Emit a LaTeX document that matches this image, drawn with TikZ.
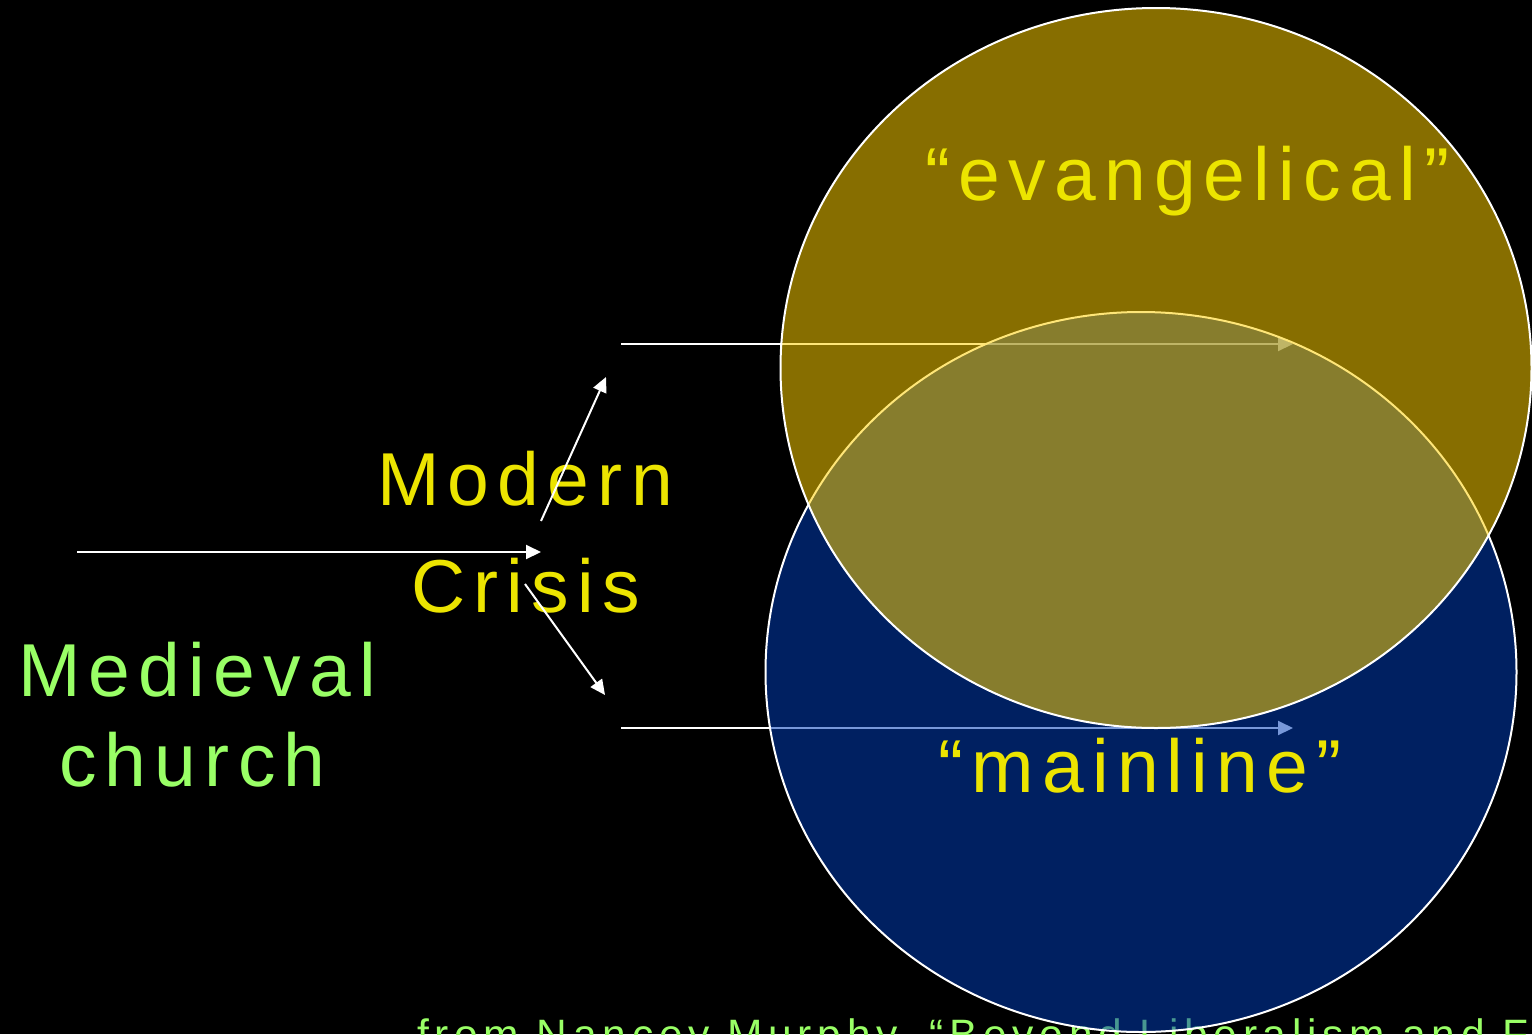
\documentclass[tikz,border=0pt]{standalone}
\usepackage{fontspec}
\setmainfont{Liberation Sans}
\newfontfamily\slidefont[LetterSpace=11]{Liberation Sans}
\newfontfamily\notefont[LetterSpace=13.5]{Liberation Sans}
\usetikzlibrary{arrows.meta,shapes.geometric,positioning}
\definecolor{slideyellow}{RGB}{236,228,0}
\definecolor{slidegreen}{RGB}{153,255,102}
\definecolor{evangold}{RGB}{255,208,0}
\definecolor{mainblue}{RGB}{0,62,185}
\newcommand{\pxunit}{1pt}
\tikzset{
    bigtxtsty/.style={font=\slidefont\fontsize{75}{75}\selectfont, inner sep=0pt, anchor=base west},
    yelsty/.style={bigtxtsty, text=slideyellow},
    grnsty/.style={bigtxtsty, text=slidegreen},
    notesty/.style={font=\notefont\fontsize{42.5}{42.5}\selectfont, text=slidegreen, inner sep=0pt, anchor=base west},
    arrsty/.style={draw=white, line width=2pt, -{Triangle[length=15pt,width=14pt]}},
    ovalsty/.style={draw=white, line width=2pt, ellipse, inner sep=0pt, minimum width=751pt, minimum height=720pt, fill opacity=0.53},
    evansty/.style={ovalsty, fill=evangold},
    mainsty/.style={ovalsty, fill=mainblue},
}

\begin{document}
\begin{tikzpicture}[x=\pxunit, y=-\pxunit]
  \useasboundingbox (0,0) rectangle (1532,1034);
  \fill[black] (0,0) rectangle (1532,1034);
  \clip (0,0) rectangle (1532,1034);

  % source line, partly cut off at the bottom
  \node[notesty] (src) at (417,1049) {from Nancey Murphy, “Beyond Liberalism and Fundamentalism”};

  \node[yelsty] (modern) at (377,505) {Modern};
  \node[yelsty] (crisis) at (411,612) {Crisis};
  \node[grnsty] (medieval) at (18,696) {Medieval};
  \node[grnsty] (church) at (59,786) {church};

  \coordinate (medstart) at (77,552);
  \coordinate (crisisin) at (541,552);
  \coordinate (upfrom) at (541,521);
  \coordinate (upto) at (606,377);
  \coordinate (downfrom) at (525,584);
  \coordinate (downto) at (605,695);
  \coordinate (evanfrom) at (621,344);
  \coordinate (evanto) at (1293,344);
  \coordinate (mainfrom) at (621,728);
  \coordinate (mainto) at (1293,728);

  \draw[arrsty] (medstart) -- (crisisin);
  \draw[arrsty] (upfrom) -- (upto);
  \draw[arrsty] (downfrom) -- (downto);
  \draw[arrsty] (evanfrom) -- (evanto);
  \draw[arrsty] (mainfrom) -- (mainto);

  \node[mainsty] (mainoval) at (1141,672) {};
  \node[evansty] (evanoval) at (1156,368) {};

  \node[yelsty] (evan) at (925,200) {“evangelical”};
  \node[yelsty] (main) at (938,792) {“mainline”};
\end{tikzpicture}
\end{document}
